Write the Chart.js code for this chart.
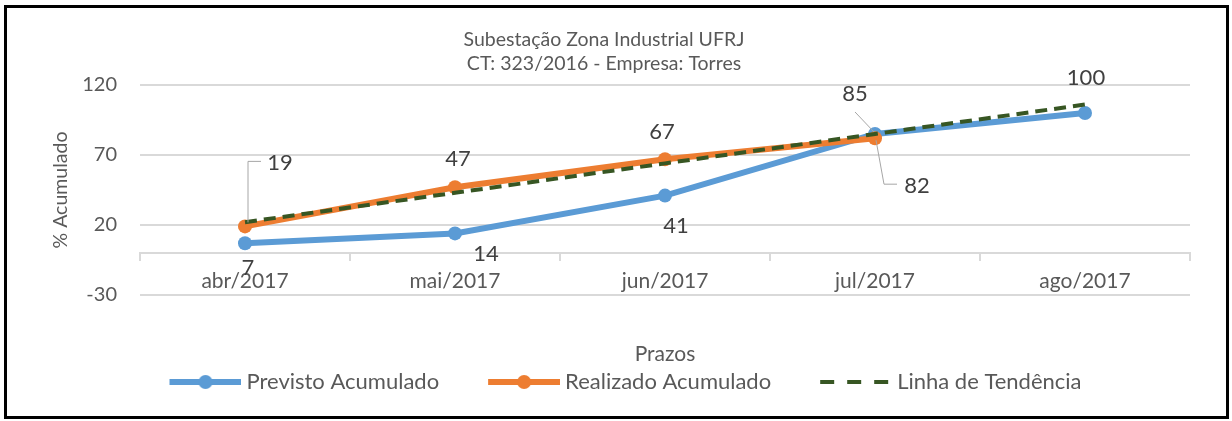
<!DOCTYPE html>
<html lang="pt-BR">
<head>
<meta charset="utf-8">
<title>Subestação Zona Industrial UFRJ</title>
<script src="https://cdn.jsdelivr.net/npm/chart.js@4.4.1/dist/chart.umd.min.js"></script>
<style>
  html, body { margin: 0; padding: 0; background: #fff; }
  #wrap { position: relative; width: 1232px; height: 421px; }
  #frame { position: absolute; left: 4px; top: 5px; width: 1219px; height: 408px; border: 3px solid #000; pointer-events: none; }
</style>
</head>
<body>
<div id="wrap">
  <canvas id="curvaS" width="1232" height="421"></canvas>
  <div id="frame"></div>
</div>
<script>
const categories = ['abr/2017', 'mai/2017', 'jun/2017', 'jul/2017', 'ago/2017'];
const previsto = [7, 14, 41, 85, 100];
const realizado = [19, 47, 67, 82, null];
const tendencia = [22, 43, 64, 85, 106];
const yTicks = [-30, 20, 70, 120];

const textGray = '#595959';
const gridGray = '#d9d9d9';
const FONT = 'Lato';

// posição dos rótulos em relação ao ponto (px)
const labelOffsets = [
    [[3, 25], [31, 21], [11, 30], [-20, -40], [1, -35]],
    [[35, -63], [3, -28], [-3, -27], [42, 48]]
];
const leaderLines = {
    '0-3': [[-20, -22], [-1, -2]],
    '1-0': [[16, -65], [3, -65], [3, -4]],
    '1-3': [[22, 46], [9, 46], [1, 2]]
};

// amostra da legenda: linha (com marcador) desenhada num canvas pequeno
function legendSample(color, width, dash, marker) {
    const c = document.createElement('canvas');
    c.width = 121; c.height = 16;
    const g = c.getContext('2d');
    g.strokeStyle = color;
    g.lineWidth = width;
    g.setLineDash(dash);
    g.beginPath(); g.moveTo(49, 8); g.lineTo(121, 8); g.stroke();
    if (marker) {
        g.fillStyle = color;
        g.beginPath(); g.arc(85, 8, 7, 0, Math.PI * 2); g.fill();
    }
    return c;
}
const samples = [
    legendSample('#5B9BD5', 6, [], true),
    legendSample('#ED7D31', 6, [], true),
    legendSample('#375623', 4, [14, 13], false)
];

const dataLabels = {
    id: 'dataLabels',
    afterDatasetsDraw(chart) {
        const ctx = chart.ctx;
        ctx.save();
        ctx.font = '22px ' + FONT;
        ctx.fillStyle = '#404040';
        ctx.textAlign = 'center';
        ctx.textBaseline = 'middle';
        ctx.strokeStyle = '#a6a6a6';
        ctx.lineWidth = 1;
        labelOffsets.forEach((offs, di) => {
            const meta = chart.getDatasetMeta(di);
            const values = chart.data.datasets[di].data;
            offs.forEach((o, i) => {
                const pt = meta.data[i];
                if (!pt || values[i] == null) return;
                const line = leaderLines[di + '-' + i];
                if (line) {
                    ctx.beginPath();
                    line.forEach((p, k) => {
                        if (k === 0) ctx.moveTo(pt.x + p[0], pt.y + p[1]);
                        else ctx.lineTo(pt.x + p[0], pt.y + p[1]);
                    });
                    ctx.stroke();
                }
                ctx.fillText(String(values[i]), pt.x + o[0], pt.y + o[1]);
            });
        });
        ctx.restore();
    }
};

new Chart(document.getElementById('curvaS'), {
    type: 'line',
    data: {
        labels: categories,
        datasets: [
            { label: 'Previsto Acumulado', data: previsto, borderColor: '#5B9BD5', backgroundColor: '#5B9BD5',
              borderWidth: 6, pointRadius: 7, pointBorderWidth: 0, pointBackgroundColor: '#5B9BD5', tension: 0, order: 3 },
            { label: 'Realizado Acumulado', data: realizado, borderColor: '#ED7D31', backgroundColor: '#ED7D31',
              borderWidth: 6, pointRadius: 7, pointBorderWidth: 0, pointBackgroundColor: '#ED7D31', tension: 0, order: 2 },
            { label: 'Linha de Tendência', data: tendencia, borderColor: '#375623', borderWidth: 4,
              borderDash: [12, 7], pointRadius: 0, tension: 0, fill: false, order: 1 }
        ]
    },
    options: {
        responsive: false,
        animation: false,
        devicePixelRatio: 1,
        layout: { padding: { left: 18, right: 42, top: 5, bottom: 18 } },
        scales: {
            x: {
                type: 'category',
                position: { y: 0 },
                offset: true,
                grid: { display: true, offset: true, drawOnChartArea: false, drawTicks: true, tickLength: 7, color: gridGray, lineWidth: 2 },
                border: { display: true, color: gridGray, width: 2 },
                ticks: { color: textGray, font: { family: FONT, size: 21 }, padding: 9, maxRotation: 0 }
            },
            y: {
                min: -30,
                max: 120,
                afterBuildTicks: scale => { scale.ticks = yTicks.map(v => ({ value: v })); },
                afterFit: scale => { scale.width = 122; },
                grid: { color: gridGray, lineWidth: 2, drawTicks: false },
                border: { display: false },
                ticks: { color: textGray, font: { family: FONT, size: 20 }, padding: 23 },
                title: { display: true, text: '% Acumulado', color: textGray, font: { family: FONT, size: 19.5 }, padding: { top: 31 } }
            }
        },
        plugins: {
            title: {
                display: true,
                text: ['Subestação Zona Industrial UFRJ', 'CT: 323/2016 - Empresa: Torres'],
                color: textGray,
                font: { family: FONT, size: 19.5, weight: 'normal', lineHeight: 1.23 },
                padding: { top: 23, bottom: 9 }
            },
            subtitle: {
                display: true,
                text: 'Prazos',
                position: 'bottom',
                fullSize: false,
                weight: 500,
                color: textGray,
                font: { family: FONT, size: 21, lineHeight: 1 },
                padding: { top: 49, bottom: 0 }
            },
            legend: {
                position: 'bottom',
                labels: {
                    usePointStyle: true,
                    pointStyleWidth: 109,
                    padding: 6,
                    color: textGray,
                    font: { family: FONT, size: 22 },
                    generateLabels: chart => chart.data.datasets.map((ds, i) => ({
                        text: ds.label,
                        pointStyle: samples[i],
                        fillStyle: 'transparent',
                        strokeStyle: 'transparent',
                        lineWidth: 0,
                        fontColor: textGray,
                        hidden: !chart.isDatasetVisible(i),
                        datasetIndex: i
                    }))
                }
            },
            tooltip: { enabled: false }
        }
    },
    plugins: [dataLabels]
});
</script>
</body>
</html>
